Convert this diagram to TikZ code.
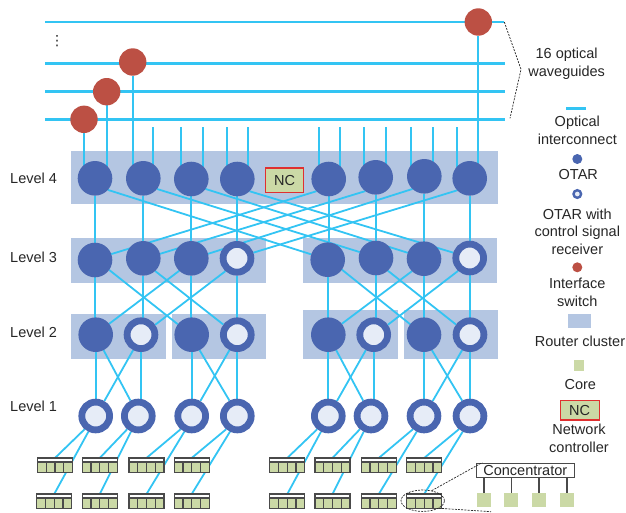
\documentclass[tikz,border=0pt]{standalone}
\usepackage{fontspec}
\setmainfont{Liberation Sans}
\newfontfamily\dvfont{DejaVu Sans}
\usetikzlibrary{calc,shapes.geometric}
\definecolor{bandc}{HTML}{B4C6E2}
\definecolor{otarc}{HTML}{4A66B0}
\definecolor{innerc}{HTML}{E6ECF7}
\definecolor{redc}{HTML}{BC5044}
\definecolor{linkc}{HTML}{33C4F3}
\definecolor{corec}{HTML}{CBD9A6}
\definecolor{ncred}{HTML}{E03030}
\definecolor{txtc}{HTML}{262626}
\definecolor{edgec}{HTML}{4A4A4A}
\pgfdeclarelayer{bands}
\pgfdeclarelayer{links}
\pgfsetlayers{bands,links,main}
\tikzset{
  solidotar/.style={circle,fill=otarc,inner sep=0pt,minimum size=34.6pt,outer sep=0pt},
  ringotar/.style={circle,fill=innerc,draw=otarc,line width=6.8pt,inner sep=0pt,minimum size=27.8pt},
  ifswitch/.style={circle,fill=redc,inner sep=0pt,minimum size=27.4pt,outer sep=0pt},
  bandbox/.style={fill=bandc},
  guide/.style={draw=linkc,line width=2.5pt},
  link/.style={draw=linkc,line width=1.8pt},
  lab/.style={text=txtc,font=\fontsize{14.5}{17.4}\selectfont,align=center,inner sep=0pt},
  levlab/.style={lab,anchor=west},
  ncbox/.style={fill=corec,draw=ncred,line width=1.1pt,text=txtc,font=\fontsize{14.5}{17}\selectfont,inner sep=0pt},
  conc/.style={fill=white,inner sep=0pt,minimum width=35pt,minimum height=14.5pt,outer sep=0pt},
  thinedge/.style={draw=edgec,line width=1.2pt},
  dashedge/.style={draw=txtc,line width=.7pt,dash pattern=on 2pt off 1.2pt},
  coresq/.style={fill=corec,inner sep=0pt,minimum size=14pt,outer sep=0pt},
}
\newcommand{\cbox}[3]{%
  \node[conc] (#1) at (#2,#3) {};
  \fill[corec] ($(#1.north west)+(0,4)$) rectangle (#1.south east);
  \draw[thinedge] ($(#1.north west)+(0,4)$) -- ($(#1.north east)+(0,4)$);
  \foreach \dx in {-8.75,0,8.75} {\draw[thinedge] ($(#1.north)+(\dx,4)$) -- ($(#1.south)+(\dx,0)$);}
  \draw[thinedge] (#1.north west) rectangle (#1.south east);
}
\begin{document}
\begin{tikzpicture}[x=1pt,y=-1pt]
\useasboundingbox (0,0) rectangle (626,512);
% bands
\begin{pgfonlayer}{bands}
\fill[bandbox] (71,151) rectangle (498,203.7);
\fill[bandbox] (71,238) rectangle (266,282.7);
\fill[bandbox] (303,238) rectangle (497,282.7);
\fill[bandbox] (71,314) rectangle (166,358.7);
\fill[bandbox] (172,314) rectangle (266,358.7);
\fill[bandbox] (303,310) rectangle (398,358.7);
\fill[bandbox] (404,310) rectangle (498,358.7);
\end{pgfonlayer}
% level 4
\node[solidotar] (a1) at (95,178.3) {};
\node[solidotar] (a2) at (143.3,178.3) {};
\node[solidotar] (a3) at (191.3,179) {};
\node[solidotar] (a4) at (237.3,179) {};
\node[solidotar] (a5) at (328.7,179) {};
\node[solidotar] (a6) at (375.7,177.3) {};
\node[solidotar] (a7) at (424.3,176.3) {};
\node[solidotar] (a8) at (469.7,178.3) {};
% level 3
\node[solidotar] (b1) at (95,260) {};
\node[solidotar] (b2) at (143.3,258.3) {};
\node[solidotar] (b3) at (191.3,258.3) {};
\node[ringotar] (b4) at (237,258.3) {};
\node[solidotar] (b5) at (327.7,259.7) {};
\node[solidotar] (b6) at (376,258) {};
\node[solidotar] (b7) at (424,258.7) {};
\node[ringotar] (b8) at (469.7,258) {};
% level 2
\node[solidotar] (c1) at (95.7,334.7) {};
\node[ringotar] (c2) at (141,334.7) {};
\node[solidotar] (c3) at (191.7,334.7) {};
\node[ringotar] (c4) at (237.3,334.7) {};
\node[solidotar] (c5) at (328.3,334.7) {};
\node[ringotar] (c6) at (373.7,334.7) {};
\node[solidotar] (c7) at (424,334.7) {};
\node[ringotar] (c8) at (470,334.7) {};
% level 1
\node[ringotar] (d1) at (95.7,416) {};
\node[ringotar] (d2) at (138.3,416) {};
\node[ringotar] (d3) at (191.7,416) {};
\node[ringotar] (d4) at (237.3,416) {};
\node[ringotar] (d5) at (328.3,416) {};
\node[ringotar] (d6) at (371,416) {};
\node[ringotar] (d7) at (424,416) {};
\node[ringotar] (d8) at (470,416) {};
% interface switches
\node[ifswitch] (r1) at (84,119.3) {};
\node[ifswitch] (r2) at (106.7,91.7) {};
\node[ifswitch] (r3) at (132.7,62) {};
\node[ifswitch] (r4) at (478.3,22) {};
% NC
\node[ncbox,minimum width=38.4pt,minimum height=24.7pt] (nc) at (284.5,180.3) {NC};
% concentrators
\cbox{e1}{55}{465.2}
\cbox{e2}{99.8}{465.2}
\cbox{e3}{146.5}{465.2}
\cbox{e4}{191.7}{465.2}
\cbox{e5}{287.3}{465.2}
\cbox{e6}{332.5}{465.2}
\cbox{e7}{378.8}{465.2}
\cbox{e8}{424.2}{465.2}
\cbox{f1}{54.2}{501.3}
\cbox{f2}{99.8}{501.3}
\cbox{f3}{146.5}{501.3}
\cbox{f4}{191.7}{501.3}
\cbox{f5}{287.3}{501.3}
\cbox{f6}{332.5}{501.3}
\cbox{f7}{378.8}{501.3}
\cbox{f8}{424.2}{501.3}
% coordinates
\coordinate (w1l) at (45,22);   \coordinate (w1r) at (504.3,22);
\coordinate (w2l) at (45,63.7); \coordinate (w2r) at (505,63.7);
\coordinate (w3l) at (45,91.7); \coordinate (w3r) at (505,91.7);
\coordinate (w4l) at (45,119.5);\coordinate (w4r) at (505,119.5);
\coordinate (s1) at (153.3,127);
\coordinate (s2) at (181.3,127);
\coordinate (s3) at (202.7,127);
\coordinate (s4) at (226.7,127);
\coordinate (s5) at (247.7,127);
\coordinate (s6) at (319.3,127);
\coordinate (s7) at (340,127);
\coordinate (s8) at (364.3,127);
\coordinate (s9) at (385.7,127);
\coordinate (s10) at (411.3,127);
\coordinate (s11) at (432.7,127);
\coordinate (s12) at (456.7,127);
\begin{pgfonlayer}{links}
\foreach \i in {1,2,3,4} {\draw[guide] (w\i l) -- (w\i r);}
\foreach \i/\n in {1/a2,2/a3,3/a3,4/a4,5/a4,6/a5,7/a5,8/a6,9/a6,10/a7,11/a7,12/a8}
  {\draw[link] (s\i) -- (s\i |- \n);}
\draw[link] (r1) -- (r1 |- a1);
\draw[link] (r2) -- (r2 |- a1);
\draw[link] (r3) -- (r3 |- a2);
\draw[link] (r4) -- (r4 |- a8);
\foreach \i in {1,...,8} {
  \draw[link] (a\i) -- (a\i |- b\i);
  \draw[link] (b\i) -- (b\i |- c\i);
  \draw[link] (c\i) -- (c\i |- d\i);
}
\draw[link] (a1.-42) -- (b5.162);
\draw[link] (a2.-38) -- (b6.160);
\draw[link] (a3.-35) -- (b7.160);
\draw[link] (a4.-45) -- (b8.162);
\draw[link] (a5.225) -- (b1.20);
\draw[link] (a6.233) -- (b2.15);
\draw[link] (a7.227) -- (b3.15);
\draw[link] (a8.224) -- (b4.19);
\foreach \o in {0,4} {
  \pgfmathtruncatemacro{\p}{\o+1}\pgfmathtruncatemacro{\q}{\o+2}\pgfmathtruncatemacro{\u}{\o+3}\pgfmathtruncatemacro{\v}{\o+4}
  \draw[link] (b\p.-35) -- (c\u.143);
  \draw[link] (b\q.-47) -- (c\v.144);
  \draw[link] (b\u.226) -- (c\p.39);
  \draw[link] (b\v.228) -- (c\q.35);
  \draw[link] (c\p.-63) -- (d\q.117);
  \draw[link] (c\q.243) -- (d\p.60);
  \draw[link] (c\u.-63) -- (d\v.117);
  \draw[link] (c\v.243) -- (d\u.60);
}
\foreach \i in {1,...,8} {
  \draw[link] (d\i.230) -- (e\i.north);
  \draw[link] (d\i.245) -- (f\i.north);
}
\end{pgfonlayer}
% dots
\node[text=txtc,font=\fontsize{14}{14}\dvfont,inner sep=0pt] (dots) at (57,41) {⋮};
% level labels
\node[levlab] (l4) at (10,178) {Level 4};
\node[levlab] (l3) at (10,257.7) {Level 3};
\node[levlab] (l2) at (10,332.7) {Level 2};
\node[levlab] (l1) at (10,406.7) {Level 1};
% brace
\coordinate (bt) at (504.3,22);
\coordinate (bm) at (521,69.3);
\coordinate (bb) at (510,118.3);
\draw[dashedge] (bt) -- (bm) -- (bb);
\node[lab] (wgl) at (566.7,63.7) {16 optical\\waveguides};
% legend
\coordinate (lg1) at (566,108.3);
\coordinate (lg2) at (586,108.3);
\draw[guide] (lg1) -- (lg2);
\node[lab] (t1) at (577.3,130.3) {Optical\\interconnect};
\node[circle,fill=otarc,inner sep=0pt,minimum size=10pt] (k1) at (577.3,159) {};
\node[lab] (t2) at (578.3,174.3) {OTAR};
\node[circle,fill=innerc,draw=otarc,line width=2.4pt,inner sep=0pt,minimum size=7.6pt] (k2) at (577.3,194) {};
\node[lab] (t3) at (577.3,231.7) {OTAR with\\control signal\\receiver};
\node[circle,fill=redc,inner sep=0pt,minimum size=10pt] (k3) at (577.3,267.3) {};
\node[lab] (t4) at (577.3,292.2) {Interface\\switch};
\fill[bandc] (568.3,314) rectangle (591,328);
\node[lab] (t5) at (580,341) {Router cluster};
\fill[corec] (574,360) rectangle (584,371);
\node[lab] (t6) at (580.3,384.3) {Core};
\node[ncbox,minimum width=38.7pt,minimum height=19.3pt] (nc2) at (579.7,410.3) {NC};
\node[lab] (t7) at (579,438.2) {Network\\controller};
% concentrator detail
\node[draw=edgec,line width=.9pt,fill=white,minimum width=97.3pt,minimum height=14.3pt,inner sep=0pt,text=txtc,font=\fontsize{14.5}{17}\selectfont] (cc) at (525.3,470.2) {Concentrator};
\node[coresq] (q1) at (484,499.9) {};
\node[coresq] (q2) at (511.3,499.9) {};
\node[coresq] (q3) at (539,499.9) {};
\node[coresq] (q4) at (567,499.9) {};
\foreach \i in {1,2,3,4} {\draw[thinedge] (q\i.north |- cc.south) -- (q\i.north);}
\node[draw=txtc,line width=.7pt,dash pattern=on 2pt off 1.2pt,ellipse,minimum width=43.4pt,minimum height=21.4pt,inner sep=0pt] (zoomell) at (422.7,500.7) {};
\coordinate (z1) at (491,511.7);
\draw[dashedge] (zoomell.48) -- (cc.170);
\draw[dashedge] (zoomell.-25) -- (z1);
\end{tikzpicture}
\end{document}
